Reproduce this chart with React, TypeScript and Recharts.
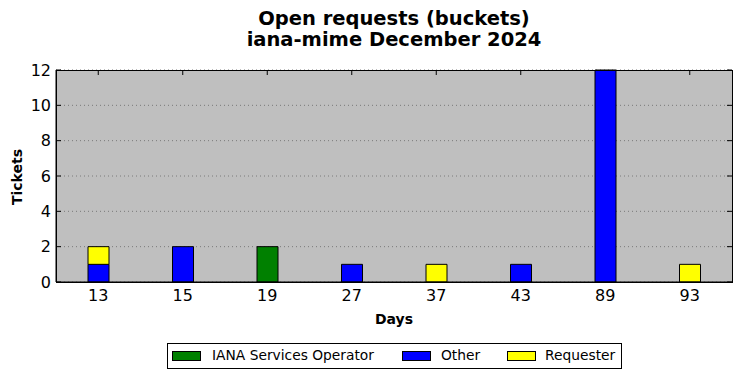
import { Bar, BarChart, CartesianGrid, XAxis, YAxis } from "recharts";

const days = ["13", "15", "19", "27", "37", "43", "89", "93"];
const ianaOperator = [0, 0, 2, 0, 0, 0, 0, 0];
const other = [1, 2, 0, 1, 0, 1, 12, 0];
const requester = [1, 0, 0, 0, 1, 0, 0, 1];
const yTicks = [0, 2, 4, 6, 8, 10, 12];
const yMax = 12;

const series = [
  { key: "iana", name: "IANA Services Operator", color: "#008000", swatchX: 172, textX: 212 },
  { key: "other", name: "Other", color: "#0000ff", swatchX: 402, textX: 441 },
  { key: "requester", name: "Requester", color: "#ffff00", swatchX: 507, textX: 545 },
];

const data = days.map((day, i) => ({
  day,
  iana: ianaOperator[i],
  other: other[i],
  requester: requester[i],
}));

const font = "'DejaVu Sans', sans-serif";
const W = 741;
const H = 378;
const margin = { top: 70, right: 9, left: 0, bottom: 66 };
const Y_AXIS_W = 56;
const X_AXIS_H = 30;
const plotLeft = margin.left + Y_AXIS_W;
const plotRight = W - margin.right;
const plotTop = margin.top;
const plotBottom = H - margin.bottom - X_AXIS_H;
const TICK = 5;

// inward ticks like matplotlib classic; bars hide the bottom ones, and the top one where a bar reaches the top
const BottomTick = (props: any) => {
  const { x, y, payload, index } = props;
  const i = payload?.index ?? index;
  const total = ianaOperator[i] + other[i] + requester[i];
  return (
    <g>
      {total < yMax && (
        <line x1={x} x2={x} y1={plotTop} y2={plotTop + TICK} stroke="#000" strokeWidth={1} />
      )}
      <text x={x} y={y} dy="0.71em" textAnchor="middle" fill="#000" fontSize={16} fontFamily={font}>
        {payload.value}
      </text>
    </g>
  );
};

const LeftTick = (props: any) => {
  const { x, y, payload } = props;
  return (
    <g>
      <line x1={plotLeft} x2={plotLeft + TICK} y1={y} y2={y} stroke="#000" strokeWidth={1} />
      <line x1={plotRight} x2={plotRight - TICK} y1={y} y2={y} stroke="#000" strokeWidth={1} />
      <text x={x} y={y} dy="0.355em" textAnchor="end" fill="#000" fontSize={16} fontFamily={font}>
        {payload.value}
      </text>
    </g>
  );
};

export default function App() {
  return (
    <div
      style={{
        position: "absolute",
        left: 0,
        top: 0,
        width: W,
        height: H,
        background: "#fff",
        fontFamily: font,
      }}
    >
      <div
        style={{
          position: "absolute",
          left: plotLeft,
          width: plotRight - plotLeft,
          top: 8,
          textAlign: "center",
          fontWeight: "bold",
          fontSize: 19.5,
          lineHeight: "21px",
        }}
      >
        Open requests (buckets)
        <br />
        iana-mime December 2024
      </div>
      <BarChart width={W} height={H} data={data} margin={margin}>
        <CartesianGrid
          vertical={false}
          fill="#bfbfbf"
          fillOpacity={1}
          stroke="#7a7a7a"
          strokeDasharray="1 3"
        />
        <XAxis
          dataKey="day"
          height={X_AXIS_H}
          stroke="#000"
          tickLine={false}
          tickSize={0}
          tickMargin={8}
          tick={BottomTick}
        />
        <YAxis
          width={Y_AXIS_W}
          domain={[0, yMax]}
          ticks={yTicks}
          stroke="#000"
          tickLine={false}
          tickSize={0}
          tickMargin={5}
          tick={LeftTick}
        />
        {series.map((s) => (
          <Bar
            key={s.key}
            dataKey={s.key}
            name={s.name}
            stackId="a"
            fill={s.color}
            stroke="#000"
            strokeWidth={1}
            barSize={21}
            isAnimationActive={false}
          />
        ))}
      </BarChart>
      {/* axes frame */}
      <div
        style={{
          position: "absolute",
          left: plotLeft,
          top: plotTop,
          width: plotRight - plotLeft + 1,
          height: plotBottom - plotTop + 1,
          border: "1px solid #000",
          boxSizing: "border-box",
          pointerEvents: "none",
        }}
      />
      <div
        style={{
          position: "absolute",
          left: 0,
          top: plotTop + 1,
          width: 34,
          height: plotBottom - plotTop,
          display: "flex",
          alignItems: "center",
          justifyContent: "center",
        }}
      >
        <div
          style={{
            transform: "rotate(-90deg)",
            fontWeight: "bold",
            fontSize: 14,
            whiteSpace: "nowrap",
          }}
        >
          Tickets
        </div>
      </div>
      <div
        style={{
          position: "absolute",
          left: plotLeft,
          width: plotRight - plotLeft,
          top: 311,
          textAlign: "center",
          fontWeight: "bold",
          fontSize: 14,
        }}
      >
        Days
      </div>
      <div
        style={{
          position: "absolute",
          left: 167,
          top: 343,
          width: 453,
          height: 24,
          border: "1px solid #000",
          fontSize: 13.8,
        }}
      >
        {series.map((s) => (
          <div key={s.key}>
            <span
              style={{
                position: "absolute",
                left: s.swatchX - 168,
                top: 7,
                width: 27,
                height: 8,
                background: s.color,
                border: "1px solid #000",
              }}
            />
            <span
              style={{
                position: "absolute",
                left: s.textX - 168,
                top: 3,
                lineHeight: "17px",
                whiteSpace: "nowrap",
              }}
            >
              {s.name}
            </span>
          </div>
        ))}
      </div>
    </div>
  );
}
